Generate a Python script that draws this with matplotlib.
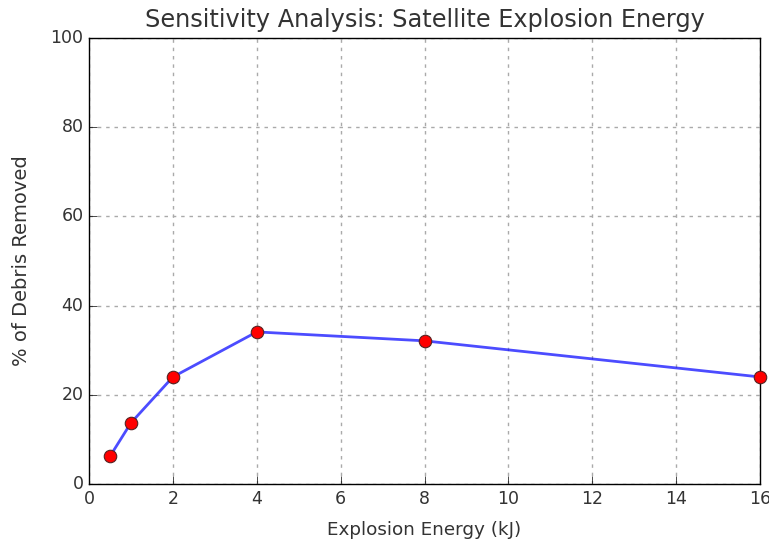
import numpy as np
import matplotlib
matplotlib.use('Agg')
import matplotlib.pyplot as plt

plt.style.use('classic')

# explosion energy (kJ) vs % of debris removed
energy = [0.5, 1, 2, 4, 8, 16]
removed = [6.2, 13.7, 24.0, 34.1, 32.1, 24.0]

fig = plt.figure(figsize=(7.69, 5.45), dpi=100, facecolor='white')
ax = fig.add_axes([89/769, 1-484/545, (760-89)/769, (484-38)/545])

ax.plot(energy, removed, color='blue', alpha=0.7, linewidth=2)
ax.plot(energy, removed, 'o', color='red', markeredgecolor='#552222',
        markersize=9, markeredgewidth=0.8, clip_on=False, zorder=5)

ax.set_xlim(0, 16)
ax.set_ylim(0, 100)
ax.set_xticks(np.arange(0, 17, 2))
ax.set_yticks(np.arange(0, 101, 20))
ax.grid(True, color='#aaaaaa', linestyle=(0, (2.5, 3.5)), linewidth=1)
ax.set_axisbelow(True)

txt = '#333333'
ax.tick_params(labelsize=12.5, labelcolor=txt, direction='in', length=6)
ax.tick_params(top=False, right=False)
ax.set_xlabel('Explosion Energy (kJ)', fontsize=13.2, color=txt, labelpad=10)
ax.set_ylabel('% of Debris Removed', fontsize=14, color=txt, labelpad=14)
ax.set_title('Sensitivity Analysis: Satellite Explosion Energy', fontsize=17.3, color=txt, y=1.01)

plt.savefig('out.png', dpi=100, facecolor='white')
